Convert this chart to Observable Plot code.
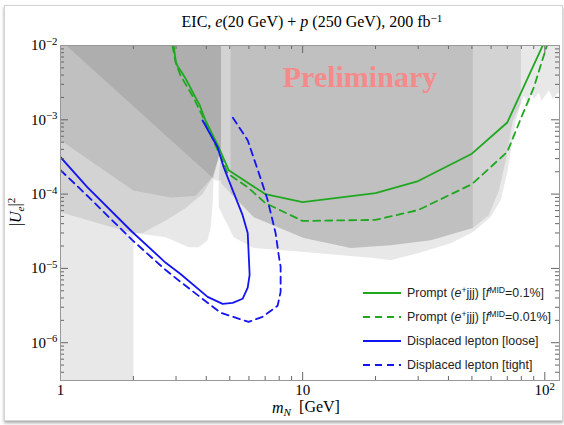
<!DOCTYPE html>
<html><head><meta charset="utf-8">
<script src="https://cdn.jsdelivr.net/npm/d3@7"></script>
<script src="https://cdn.jsdelivr.net/npm/@observablehq/plot@0.6"></script>
<style>
body{margin:0;background:#fff;}
#wrap{position:relative;width:564px;height:425px;overflow:hidden;background:#fff;}
#border{position:absolute;left:4px;top:5px;width:557px;height:414px;border:1px solid #d4d4d4;box-shadow:0 2px 3px rgba(0,0,0,0.35);background:#fff;}
#chart{position:absolute;left:0;top:0;}
</style></head><body>
<div id="wrap"><div id="border"></div><div id="chart"></div></div>
<script>
// ---- data (mass m_N in GeV, |U_e|^2) ----
const greenSolidM = [2.93, 3.0, 3.05, 3.19, 3.3, 3.61, 3.75, 3.97, 4.5, 4.95, 7.0, 10, 20, 30, 50, 70, 100];
const greenSolidU = [1e-2, 5.9e-3, 5.2e-3, 4.2e-3, 3.5e-3, 2.0e-3, 1.6e-3, 9.8e-4, 4.3e-4, 2.1e-4, 1.0e-4, 7.8e-5, 1.03e-4, 1.5e-4, 3.5e-4, 9.2e-4, 1.15e-2];
const greenDashM = [2.90, 2.99, 3.13, 3.54, 3.90, 4.37, 4.67, 4.90, 5.93, 7.0, 10, 20, 30, 50, 70, 80, 90, 103];
const greenDashU = [1e-2, 5.9e-3, 3.95e-3, 2.0e-3, 1.05e-3, 4.5e-4, 2.86e-4, 1.9e-4, 1.24e-4, 7.6e-5, 4.35e-5, 4.5e-5, 6.1e-5, 1.36e-4, 3.7e-4, 1.08e-3, 2.7e-3, 1.1e-2];
const blueSolidM = [1, 1.29, 1.98, 2.72, 3.13, 4.05, 4.67, 5.14, 5.65, 5.93, 6.04, 5.98, 5.93, 5.65, 5.14, 4.72, 4.45, 3.86];
const blueSolidU = [3.14e-4, 1.24e-4, 3.09e-5, 1.19e-5, 8.4e-6, 4.14e-6, 3.33e-6, 3.44e-6, 3.9e-6, 5.5e-6, 8.2e-6, 1.66e-5, 3.0e-5, 5.2e-5, 1.13e-4, 2.3e-4, 4.3e-4, 9.8e-4];
const blueDashM = [1, 1.27, 1.98, 2.72, 3.13, 4.58, 5.98, 6.83, 7.88, 8.11, 8.11, 7.96, 7.73, 7.37, 7.17, 6.70, 5.93, 5.14];
const blueDashU = [2.1e-4, 1.0e-4, 2.4e-5, 9.5e-6, 6.6e-6, 2.53e-6, 1.91e-6, 2.23e-6, 3.14e-6, 4.84e-6, 1.05e-5, 1.52e-5, 3.0e-5, 5.7e-5, 8.3e-5, 1.64e-4, 5.3e-4, 1.08e-3];

// existing exclusion regions (boundary points, m_N, |U_e|^2)
const regionBand = [[0.9,1e-8],[2,1e-8],[2,1],[0.9,1]];
const regionL1 = [[0.9,5.9e-5],[1,5.7e-5],[1.53,3.8e-5],[2.0,3.0e-5],[2.18,3.0e-5],[2.72,4.4e-5],[3.29,6.5e-5],[3.86,1.0e-4],[4.25,1.68e-4],[4.6,4e-4],[4.6,1],[0.9,1]];
const regionL2 = [[2.0,3.0e-5],[2.72,2.62e-5],[3.38,1.93e-5],[3.72,1.93e-5],[4.05,2.39e-5],[4.17,3.58e-5],[4.25,7.5e-5],[4.29,1.68e-4],[4.6,4e-4],[4.6,1],[2.0,1]];
const regionE = [[0.9,6.2e-4],[1,5.3e-4],[2.0,1.12e-4],[2.85,9.0e-5],[3.61,9.4e-5],[4.25,1.7e-4],[4.6,4e-4],[4.6,1],[0.9,1]];
const regionT = [[0.9,1.6e-2],[4.37,1.53e-4],[4.6,1.53e-4],[4.6,1],[0.9,1]];
const regionR1 = [[4.6,1],[4.6,4e-4],[4.5,1.5e-4],[4.5,6.65e-5],[5.19,2.62e-5],[6.27,1.88e-5],[9.81,1.68e-5],[19.6,1.38e-5],[23.1,1.29e-5],[29.9,1.6e-5],[40.9,2.18e-5],[50.4,3.07e-5],[59.8,4.9e-5],[65.8,8.3e-5],[70.3,2.09e-4],[72.4,3.88e-4],[75.9,9.8e-4],[79.6,1.66e-3],[82,2.1e-3],[85.9,1.61e-3],[88,2.3e-3],[90.1,1.9e-3],[94.5,2.33e-3],[97,1.8e-3],[99,2.0e-3],[104,2.5e-3],[108,1.9e-3],[113,2.3e-3],[120,2.2e-3],[120,1]];
const regionR2 = [[4.6,1],[4.6,1.4e-4],[6.27,4.9e-5],[10.1,2.56e-5],[15.8,1.88e-5],[23.1,2.05e-5],[33.8,2.39e-5],[50.4,3.5e-5],[58.7,5.2e-5],[64.6,1.12e-4],[69,2.85e-4],[73.8,9.8e-4],[79.6,1.66e-3],[80,1]];
const regionM = [[5.04,1],[5.04,1.03e-4],[6.27,4.9e-5],[10.1,2.56e-5],[15.8,1.88e-5],[23.1,2.05e-5],[33.8,2.39e-5],[50.4,3.5e-5],[50.4,1]];

// ticks
const xMajor = [1, 10, 100];
const xMinor = [2,3,4,5,6,7,8,9,20,30,40,50,60,70,80,90];
const yMajor = [1e-6, 1e-5, 1e-4, 1e-3, 1e-2];
const yMinorMant = [2,3,4,5,6,7,8,9];
const yMinor = [1e-7,1e-6,1e-5,1e-4,1e-3].flatMap(d => yMinorMant.map(k => k*d)).filter(v => v >= 3.1e-7 && v <= 1e-2);
const xLabels = ["1", "10", "10|2"];
const yLabels = ["10|−6", "10|−5", "10|−4", "10|−3", "10|−2"];

const legendItems = [
  {parts: [["Prompt ("],["e","i"],["+","sup"],["jjj) ["],["f","i"],["MID","sup"],["=0.1%]"]], color: "#1fa81f", dash: null},
  {parts: [["Prompt ("],["e","i"],["+","sup"],["jjj) ["],["f","i"],["MID","sup"],["=0.01%]"]], color: "#1fa81f", dash: "7,5"},
  {parts: [["Displaced lepton [loose]"]], color: "#1414f2", dash: null},
  {parts: [["Displaced lepton [tight]"]], color: "#1414f2", dash: "7,5"}
];

const toRows = (ms, us) => ms.map((m, i) => ({m, u: us[i]}));
const regions = {regionBand, regionL1, regionL2, regionE, regionT, regionR1, regionR2, regionM};
const regionRows = Object.entries(regions).flatMap(([name, pts]) => pts.map(([m, u]) => ({name, m, u})));

const serif = "'Liberation Serif','Times New Roman',serif";
const sans = "'Liberation Sans',Arial,sans-serif";
const green = "#1fa81f", blue = "#1414f2";

const W = 564, H = 425, mL = 60, mR = 5, mT = 45, mB = 45;
const fw = W - mL - mR, fh = H - mT - mB;
const tickColor = "#666";
const tickMarks = (L, vals) => [
  Plot.ruleX(vals, {x: d => d, insetTop: fh - L, stroke: tickColor, strokeWidth: 1}),
  Plot.ruleX(vals, {x: d => d, insetBottom: fh - L, stroke: tickColor, strokeWidth: 1})
];
const tickMarksY = (L, vals) => [
  Plot.ruleY(vals, {y: d => d, insetRight: fw - L, stroke: tickColor, strokeWidth: 1}),
  Plot.ruleY(vals, {y: d => d, insetLeft: fw - L, stroke: tickColor, strokeWidth: 1})
];

const plot = Plot.plot({
  width: W, height: H,
  marginLeft: mL, marginRight: mR, marginTop: mT, marginBottom: mB,
  x: {type: "log", domain: [1, 115]},
  y: {type: "log", domain: [3.1e-7, 1e-2]},
  style: {fontFamily: serif, fontSize: "14px", color: "black", background: "transparent", overflow: "visible"},
  marks: [
    Plot.line(regionRows, {x: "m", y: "u", z: "name", fill: "#000", fillOpacity: 0.09, stroke: "none", clip: true}),
    Plot.line(toRows(greenSolidM, greenSolidU), {x: "m", y: "u", stroke: green, strokeWidth: 1.8, clip: true}),
    Plot.line(toRows(greenDashM, greenDashU), {x: "m", y: "u", stroke: green, strokeWidth: 1.8, strokeDasharray: "7,5", clip: true}),
    Plot.line(toRows(blueSolidM, blueSolidU), {x: "m", y: "u", stroke: blue, strokeWidth: 1.8, clip: true}),
    Plot.line(toRows(blueDashM, blueDashU), {x: "m", y: "u", stroke: blue, strokeWidth: 1.8, strokeDasharray: "7,5", clip: true}),
    ...tickMarks(8, xMajor.filter(v => v > 1)),
    ...tickMarks(4, xMinor),
    ...tickMarksY(8, yMajor.filter(v => v < 1e-2)),
    ...tickMarksY(4, yMinor),
    Plot.frame({stroke: "#999", strokeWidth: 1}),
    Plot.axisX(xMajor, {anchor: "bottom", tickSize: 0, tickPadding: 4, fill: "black", fontSize: 15, tickFormat: (d) => xLabels[xMajor.indexOf(d)], label: null}),
    Plot.axisY(yMajor, {anchor: "left", tickSize: 0, tickPadding: 3, fill: "black", fontSize: 15, tickFormat: (d) => yLabels[yMajor.indexOf(d)], label: null})
  ]
});
document.getElementById("chart").appendChild(plot);

const svg = d3.select(plot);

// superscripts in tick labels
svg.selectAll('g[aria-label$="tick label"] text').each(function() {
  const s = this.textContent;
  if (s && s.includes("|")) {
    const [b, e] = s.split("|");
    this.textContent = "";
    const t = d3.select(this);
    t.append("tspan").text(b);
    t.append("tspan").attr("dy", "-0.5em").attr("font-size", "0.72em").text(e);
  }
});

const ov = svg.append("g").attr("font-family", serif).attr("fill", "black");

// watermark
ov.append("text").attr("x", 360).attr("y", 87).attr("text-anchor", "middle")
  .attr("font-size", 30).attr("font-weight", "bold").attr("fill", "#f58a8a").text("Preliminary");

// title
const t = ov.append("text").attr("x", 312).attr("y", 27).attr("text-anchor", "middle").attr("font-size", 16);
t.append("tspan").text("EIC, ");
t.append("tspan").attr("font-style", "italic").text("e");
t.append("tspan").text("(20 GeV) + ");
t.append("tspan").attr("font-style", "italic").text("p");
t.append("tspan").text(" (250 GeV), 200 fb");
t.append("tspan").attr("dy", "-0.45em").attr("font-size", "0.7em").text("−1");

// x label
const xl = ov.append("text").attr("x", 306).attr("y", 413).attr("text-anchor", "middle").attr("font-size", 16);
xl.append("tspan").attr("font-style", "italic").text("m");
xl.append("tspan").attr("dy", "0.3em").attr("font-size", "0.7em").attr("font-style", "italic").text("N");
xl.append("tspan").attr("dy", "-0.3em").text("\u2002[GeV]");

// y label
const yl = ov.append("text").attr("transform", "translate(21,212) rotate(-90)").attr("text-anchor", "middle").attr("font-size", 16);
yl.append("tspan").text("|");
yl.append("tspan").attr("font-style", "italic").text("U");
yl.append("tspan").attr("dy", "0.3em").attr("font-size", "0.7em").attr("font-style", "italic").text("e");
yl.append("tspan").attr("dy", "-0.3em").text("|");
yl.append("tspan").attr("dy", "-0.45em").attr("font-size", "0.7em").text("2");

// legend
const lg = svg.append("g").attr("font-family", sans).attr("font-size", 12.4).attr("fill", "#222").attr("text-anchor", "start");
legendItems.forEach((it, i) => {
  const y = 293 + i * 24;
  lg.append("line").attr("x1", 363).attr("x2", 401).attr("y1", y).attr("y2", y)
    .attr("stroke", it.color).attr("stroke-width", 2).attr("stroke-dasharray", it.dash);
  const tx = lg.append("text").attr("x", 407).attr("y", y + 4.3).attr("text-anchor", "start");
  let up = false;
  it.parts.forEach(([s, kind]) => {
    const sp = tx.append("tspan").text(s);
    if (kind === "i") sp.attr("font-style", "italic");
    if (kind === "sup") { sp.attr("dy", "-0.45em").attr("font-size", "0.7em"); up = true; }
    else if (up) { sp.attr("dy", "0.315em"); up = false; }
  });
});
</script>
</body></html>
